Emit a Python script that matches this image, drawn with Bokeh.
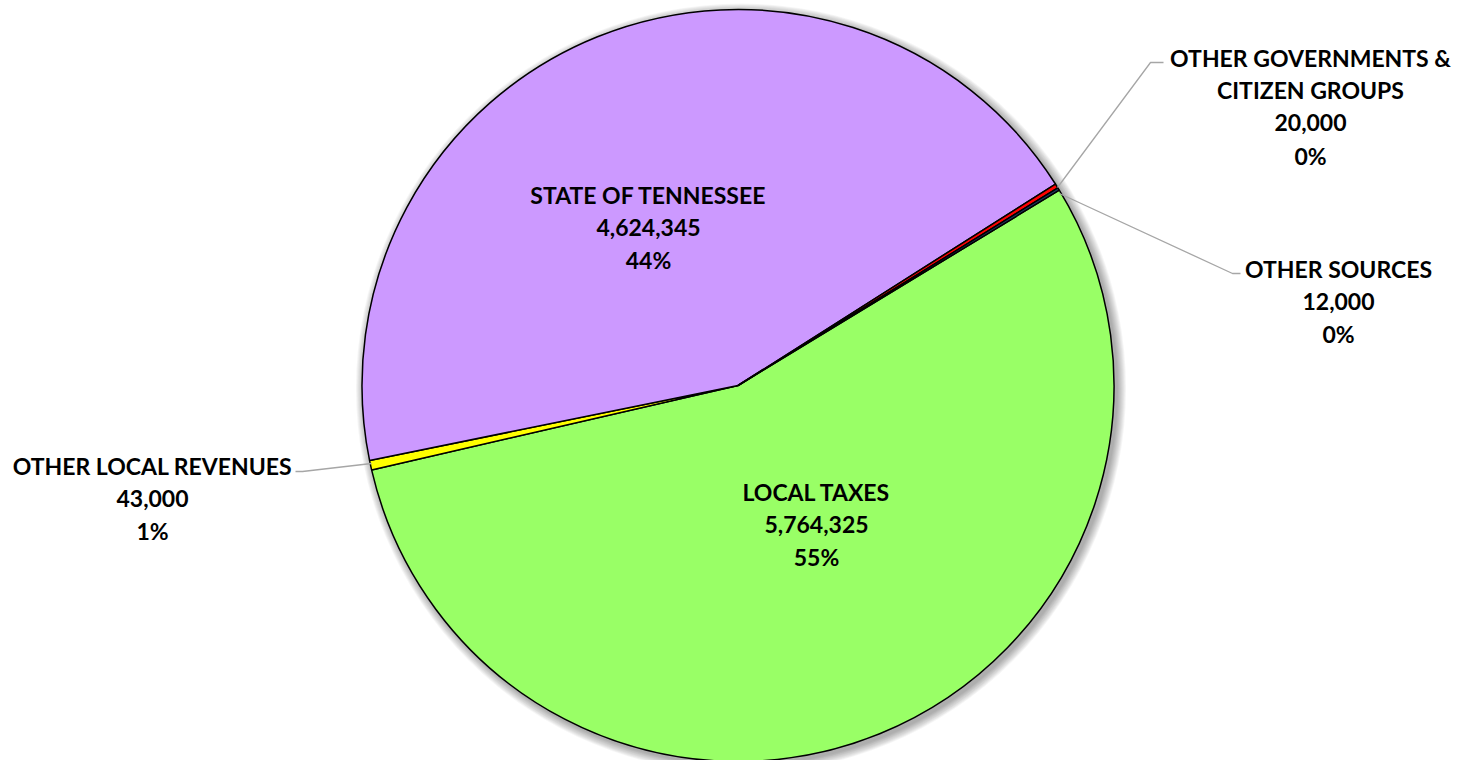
import math
from bokeh.plotting import figure
from bokeh.models import Range1d, ColumnDataSource
from bokeh.core.properties import value
from bokeh.embed import file_html
from bokeh.resources import INLINE

# data (clockwise order)
categories = ["LOCAL TAXES", "OTHER LOCAL REVENUES", "STATE OF TENNESSEE",
              "OTHER GOVERNMENTS &\nCITIZEN GROUPS", "OTHER SOURCES"]
amounts = [5764325, 43000, 4624345, 20000, 12000]
pct_labels = ["55%", "1%", "44%", "0%", "0%"]
colors = ["#99FF66", "#FFFF00", "#CC99FF", "#FF0000", "#1F3864"]

W, H = 1458, 760
CX, CY, R = 737.5, 760 - 385, 376
START_DEG = 31.3

p = figure(width=W, height=H, x_range=Range1d(0, W), y_range=Range1d(0, H),
           output_backend="svg", toolbar_location=None, min_border=0,
           background_fill_color="white", border_fill_color="white")
p.axis.visible = False
p.grid.visible = False
p.outline_line_color = None

# soft shadow
for k in range(10):
    p.circle(x=[CX + 3], y=[CY - 3], radius=R + 1 + k * 0.9, fill_color="black",
             fill_alpha=0.035, line_color=None)

total = sum(amounts)
starts, ends = [], []
a = math.radians(START_DEG)
for v in amounts:
    span = v / total * 2 * math.pi
    starts.append(a)
    ends.append(a - span)
    a -= span

src = ColumnDataSource(dict(start=starts, end=ends, color=colors))
p.wedge(x=CX, y=CY, radius=R, start_angle="start", end_angle="end",
        direction="clock", fill_color="color", line_color="black", line_width=1.5,
        source=src)

# label positions (pixel coords, top-origin)
label_pos = [(816, 491), (152, 465), (648, 194), (1310, 57), (1338, 268)]
line_h = 32.7
for cat, v, pl, (lx, ly) in zip(categories, amounts, pct_labels, label_pos):
    lines = cat.split("\n") + [f"{v:,}", pl]
    ys = [H - (ly + i * line_h) for i in range(len(lines))]
    p.text(x=[lx] * len(lines), y=ys, text=lines, text_align="center",
           text_baseline="middle", text_font=value("Lato"), text_font_style="bold",
           text_font_size="23px", text_color="black")

# leader lines
lc = "#A6A6A6"
p.line(x=[1057, 1150, 1163], y=[H - 187, H - 62, H - 62], line_color=lc, line_width=1.3)
p.line(x=[1059, 1232, 1240], y=[H - 193, H - 273, H - 273], line_color=lc, line_width=1.3)
p.line(x=[371, 302, 295], y=[H - 463, H - 471, H - 471], line_color=lc, line_width=1.3)

open("out.html", "w").write(file_html(p, INLINE))
